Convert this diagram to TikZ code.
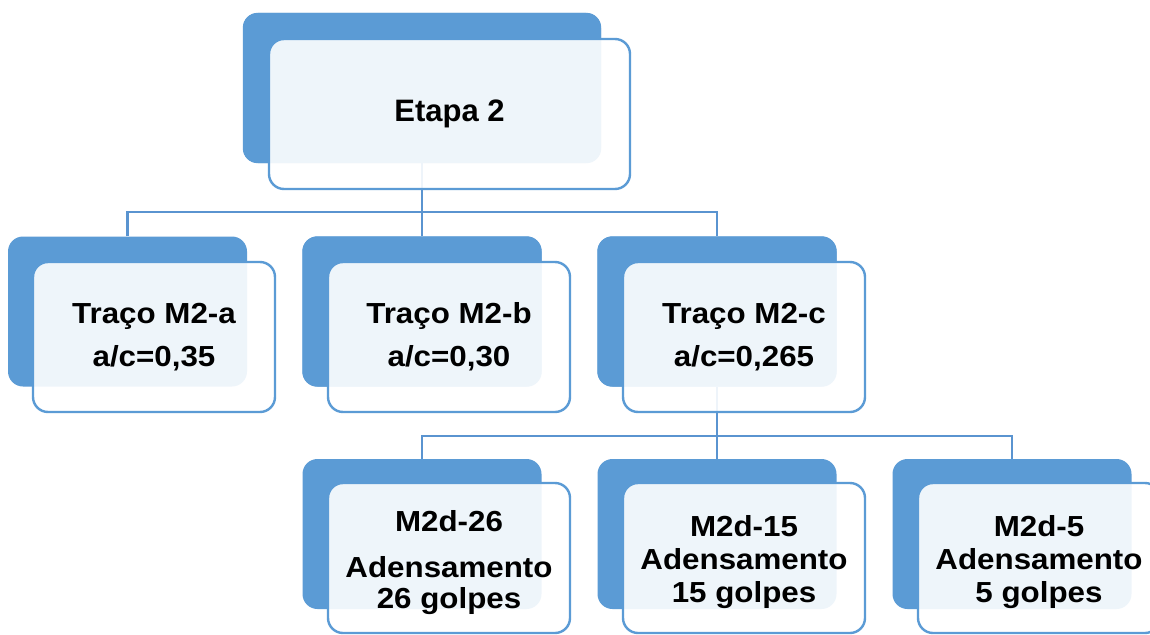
\documentclass[tikz,border=0pt]{standalone}
\usepackage{fontspec}
\setmainfont{Liberation Sans}
\newfontfamily\boxfont[FakeStretch=1.08]{Liberation Sans}
\definecolor{accent}{HTML}{5B9BD5}
\definecolor{linkc}{HTML}{5A94D0}
\begin{document}
\begin{tikzpicture}[x=1pt,y=-1pt,
  backbox/.style={fill=accent, draw=none, rounded corners=15pt, minimum width=239pt, minimum height=150pt, inner sep=0pt},
  frontbox/.style={fill=white, fill opacity=0.9, draw=accent, draw opacity=1, line width=2.4pt, rounded corners=15pt, minimum width=242pt, minimum height=150pt, inner sep=0pt},
  boxtext/.style={inner sep=0pt, align=center},
  lvtwo/.style={boxtext, font=\boxfont\bfseries\fontsize{29}{43}\selectfont},
  lvthree/.style={boxtext, font=\boxfont\bfseries\fontsize{29}{33}\selectfont},
  link/.style={draw=linkc, line width=2.4pt}]
\clip (0,0) rectangle (1150,634);
\fill[white] (0,0) rectangle (1150,634);
% bus points
\coordinate (bus1) at (422,212);
\coordinate (bus2) at (717,436);
% back boxes
\node[backbox, minimum width=358pt] (b0) at (422,88) {};
\node[backbox] (ba) at (127.5,311.5) {};
\node[backbox] (bb) at (422,311.5) {};
\node[backbox] (bc) at (717,311.5) {};
\node[backbox] (d26) at (422,534) {};
\node[backbox] (d15) at (717,534) {};
\node[backbox] (d5) at (1012,534) {};
% connectors
\draw[link] (b0.south) -- (bb.north);
\draw[link] (ba.north) |- (bus1);
\draw[link] (bc.north) |- (bus1);
\draw[link] (bc.south) -- (d15.north);
\draw[link] (d26.north) |- (bus2);
\draw[link] (d5.north) |- (bus2);
% redraw back boxes over connectors
\fill[accent, rounded corners=15pt] (b0.south west) rectangle (b0.north east);
\fill[accent, rounded corners=15pt] (bb.south west) rectangle (bb.north east);
\fill[accent, rounded corners=15pt] (bc.south west) rectangle (bc.north east);
% front boxes
\node[frontbox, minimum width=361pt] (f0) at (449.5,114) {};
\node[frontbox] (fa) at (154,337) {};
\node[frontbox] (fb) at (449,337) {};
\node[frontbox] (fc) at (744,337) {};
\node[frontbox] (g26) at (449,558) {};
\node[frontbox] (g15) at (744,558) {};
\node[frontbox] (g5) at (1039,558) {};
% texts
\node[boxtext, font=\bfseries\fontsize{31}{36}\selectfont] (t0) at (f0.center) {Etapa 2};
\node[lvtwo] (ta) at (fa.center) {Traço M2-a\\a/c=0,35};
\node[lvtwo] (tb) at (fb.center) {Traço M2-b\\a/c=0,30};
\node[lvtwo] (tc) at (fc.center) {Traço M2-c\\a/c=0,265};
\node[boxtext, font=\boxfont\bfseries\fontsize{29}{30.5}\selectfont] (t26) at ([yshift=-4.5pt]g26.center) {M2d-26\\[15.5pt]Adensamento\\26 golpes};
\node[lvthree] (t15) at ([yshift=-4pt]g15.center) {M2d-15\\Adensamento\\15 golpes};
\node[lvthree] (t5) at ([yshift=-4pt]g5.center) {M2d-5\\Adensamento\\5 golpes};
\end{tikzpicture}
\end{document}
